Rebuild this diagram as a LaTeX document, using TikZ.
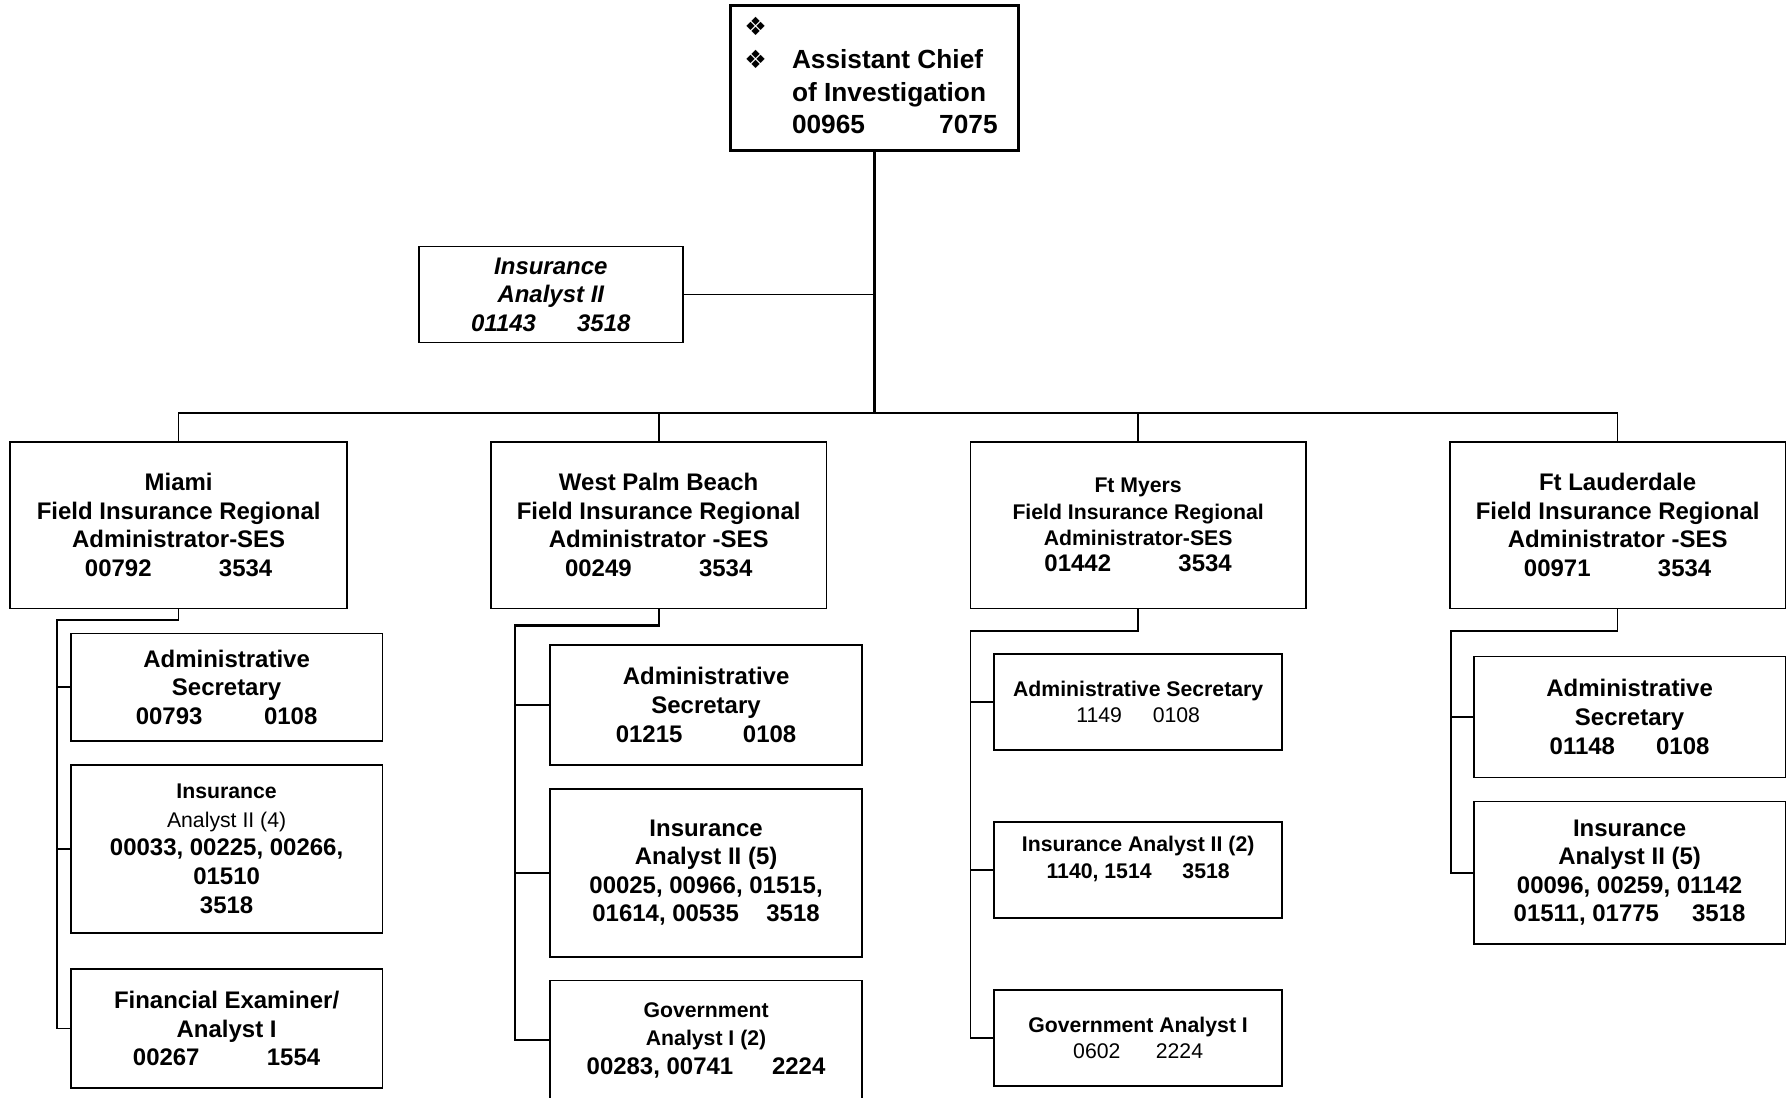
\documentclass[tikz,border=0pt]{standalone}
\usepackage{fontspec}
\setmainfont{Liberation Sans}
\newfontfamily\dejavu{DejaVu Sans}
\newcommand{\sm}{\fontsize{9.3}{11.5}\selectfont}
\newcommand{\dia}{{\dejavu\fontsize{11}{11}\selectfont ❖}}
\begin{document}
\begin{tikzpicture}[x=0.5pt,y=-0.5pt,
  box/.style={draw, rectangle, line width=0.75pt, inner sep=0pt, align=center,
    font=\fontsize{10.5}{12.5}\selectfont\bfseries},
  bx/.style 2 args={minimum width=#1*0.5pt, minimum height=#2*0.5pt},
  link/.style={line width=0.7pt},
  trunk/.style={line width=1.3pt}]
\useasboundingbox (0,0) rectangle (1568,961);
\clip (0,0) rectangle (1568,961);

% head of the unit
\node[box, line width=1.5pt, bx={252}{127}] (top) at (766,68.5)
  {\fontsize{11.5}{14.3}\selectfont
   \begin{tabular}{@{}l@{\hspace{11pt}}l@{}}
   \dia & \\
   \dia & Assistant Chief\\
        & of Investigation\\
        & 00965\hspace{32.5pt}7075
   \end{tabular}\hspace{3pt}};

% staff position
\node[box, bx={231}{84}, font=\fontsize{10.5}{12.5}\selectfont\bfseries\itshape] (ia2) at (482.5,258)
  {Insurance\\Analyst II\\01143\hspace{18pt}3518};

% regional administrators
\node[box, bx={295}{146}] (miami) at (156.5,460)
  {Miami\\Field Insurance Regional\\Administrator-SES\\00792\hspace{29.5pt}3534};
\node[box, bx={294}{146}] (wpb) at (577,460)
  {West Palm Beach\\Field Insurance Regional\\Administrator -SES\\00249\hspace{29.5pt}3534};
\node[box, bx={294}{146}, font=\sm\bfseries] (ftm) at (997,460)
  {Ft Myers\\Field Insurance Regional\\Administrator-SES\\{\fontsize{10.5}{12.5}\selectfont 01442\hspace{29.5pt}3534}};
\node[box, bx={294}{146}] (ftl) at (1417,460)
  {Ft Lauderdale\\Field Insurance Regional\\Administrator -SES\\00971\hspace{29.5pt}3534};

% Miami staff
\node[box, bx={273}{94}] (m1) at (198.5,602)
  {Administrative\\Secretary\\00793\hspace{27pt}0108};
\node[box, bx={273}{147}] (m2) at (198.5,743.5)
  {{\sm Insurance}\\{\sm\mdseries Analyst II (4)}\\00033, 00225, 00266,\\01510\\3518};
\node[box, bx={273}{104}] (m3) at (198.5,901)
  {Financial Examiner/\\Analyst I\\00267\hspace{29.5pt}1554};

% West Palm Beach staff
\node[box, bx={273}{105}] (w1) at (618.5,617.5)
  {Administrative\\Secretary\\01215\hspace{26.5pt}0108};
\node[box, bx={273}{147}] (w2) at (618.5,764.5)
  {Insurance\\Analyst II (5)\\00025, 00966, 01515,\\01614, 00535\hspace{12pt}3518};
\node[box, bx={273}{104}] (w3) at (618.5,911)
  {{\sm Government}\\{\sm Analyst I (2)}\\00283, 00741\hspace{17pt}2224};

% Ft Myers staff
\node[box, bx={252}{84}, font=\sm\bfseries] (f1) at (997,615)
  {Administrative Secretary\\{\mdseries 1149\hspace{13.5pt}0108}};
\node[box, bx={252}{84}, font=\sm\bfseries] (f2) at (997,762)
  {Insurance Analyst II (2)\\1140, 1514\hspace{13.5pt}3518\\[-4pt]\strut};
\node[box, bx={252}{84}, font=\sm\bfseries] (f3) at (997,909)
  {Government Analyst I\\{\mdseries 0602\hspace{15.5pt}2224}};

% Ft Lauderdale staff
\node[box, bx={273}{106}] (l1) at (1427.5,628)
  {Administrative\\Secretary\\01148\hspace{18pt}0108};
\node[box, bx={273}{125}] (l2) at (1427.5,764.5)
  {Insurance\\Analyst II (5)\\00096, 00259, 01142\\01511, 01775\hspace{14.5pt}3518};

% trunk and bus
\coordinate (bus) at (766,362);
\draw[trunk] (top.south) -- (top.south |- bus);
\draw[link] (ia2.east) -- (ia2.east -| top.south);
\draw[link] (miami.north) -- (miami.north |- bus) -- (ftl.north |- bus) -- (ftl.north);
\draw[link] (wpb.north) -- (wpb.north |- bus);
\draw[link] (ftm.north) -- (ftm.north |- bus);

% Miami spine
\coordinate (ms) at (50,543);
\draw[link] (miami.south) -- (miami.south |- ms) -- (ms) -- (ms |- m3.west) -- (m3.west);
\draw[link] (ms |- m1.west) -- (m1.west);
\draw[link] (ms |- m2.west) -- (m2.west);

% West Palm Beach spine
\coordinate (ws) at (451,548);
\draw[line width=1pt] (wpb.south) -- (wpb.south |- ws) -- (ws) -- (ws |- w3.west) -- (w3.west);
\draw[line width=1pt] (ws |- w1.west) -- (w1.west);
\draw[line width=1pt] (ws |- w2.west) -- (w2.west);

% Ft Myers spine
\coordinate (fs) at (850,553);
\draw[link] (ftm.south) -- (ftm.south |- fs) -- (fs) -- (fs |- f3.west) -- (f3.west);
\draw[link] (fs |- f1.west) -- (f1.west);
\draw[link] (fs |- f2.west) -- (f2.west);

% Ft Lauderdale spine
\coordinate (ls) at (1271,553);
\draw[link] (ftl.south) -- (ftl.south |- ls) -- (ls) -- (ls |- l2.west) -- (l2.west);
\draw[link] (ls |- l1.west) -- (l1.west);
\end{tikzpicture}
\end{document}
